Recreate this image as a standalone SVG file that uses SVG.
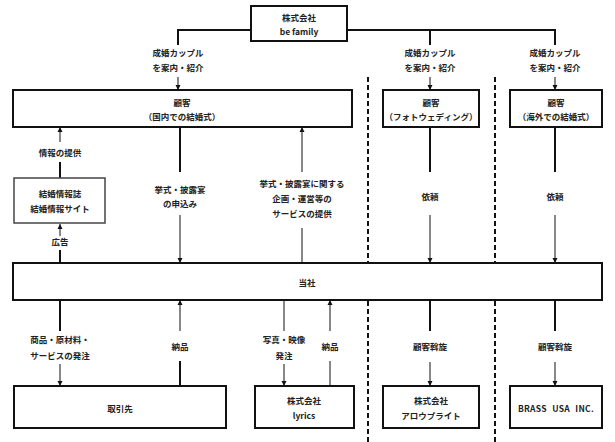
<svg xmlns="http://www.w3.org/2000/svg" width="615" height="442" viewBox="0 0 615 442">
<style>
.box{fill:#fff;stroke:#111;stroke-width:2}
.box2{fill:#fff;stroke:#444;stroke-width:1.5}
.t{font-family:"Noto Sans CJK JP","Noto Sans",sans-serif;font-size:8.5px;font-weight:bold;fill:#222;text-anchor:middle;dominant-baseline:central}
.thick{stroke:#111;stroke-width:2;fill:none}
.thin{stroke:#111;stroke-width:1;fill:none}
.arr{stroke:#111;stroke-width:1;fill:none;marker-end:url(#ah)}
.dash{stroke:#111;stroke-width:2;stroke-dasharray:5,3;fill:none}
</style>
<defs>
<marker id="ah" markerWidth="6" markerHeight="6" refX="5" refY="3" orient="auto" markerUnits="userSpaceOnUse">
<path d="M0,0.5 L5,3 L0,5.5 Z" fill="#111"/>
</marker>
</defs>
<rect width="615" height="442" fill="#fff"/>
<g id="connectors">
<polyline class="thick" points="251,30 178,30 178,45"/>
<polyline class="thick" points="347,30 555,30 555,45"/>
<line class="thick" x1="430" y1="30" x2="430" y2="45"/>
<line class="arr" x1="178" y1="77" x2="178" y2="90"/>
<line class="arr" x1="430" y1="77" x2="430" y2="90"/>
<line class="arr" x1="555" y1="77" x2="555" y2="90"/>
<line class="dash" x1="368" y1="77" x2="368" y2="442"/>
<line class="dash" x1="495" y1="77" x2="495" y2="442"/>
<line class="arr" x1="60" y1="142" x2="60" y2="127"/>
<line class="thick" x1="60" y1="162" x2="60" y2="178"/>
<line class="arr" x1="60" y1="236" x2="60" y2="224"/>
<line class="thick" x1="60" y1="250" x2="60" y2="263"/>
<line class="thick" x1="180" y1="127" x2="180" y2="172"/>
<line class="arr" x1="180" y1="215" x2="180" y2="263"/>
<line class="arr" x1="302" y1="172" x2="302" y2="127"/>
<line class="thin" x1="302" y1="228" x2="302" y2="263"/>
<line class="thick" x1="430" y1="127" x2="430" y2="172"/>
<line class="arr" x1="430" y1="215" x2="430" y2="263"/>
<line class="thick" x1="555" y1="127" x2="555" y2="172"/>
<line class="arr" x1="555" y1="215" x2="555" y2="263"/>
<line class="thick" x1="60" y1="300" x2="60" y2="331"/>
<line class="arr" x1="60" y1="364" x2="60" y2="386"/>
<line class="arr" x1="180" y1="331" x2="180" y2="300"/>
<line class="thick" x1="180" y1="361" x2="180" y2="386"/>
<line class="thin" x1="284" y1="300" x2="284" y2="331"/>
<line class="arr" x1="284" y1="364" x2="284" y2="386"/>
<line class="arr" x1="330" y1="331" x2="330" y2="300"/>
<line class="thin" x1="330" y1="361" x2="330" y2="386"/>
<line class="thick" x1="430" y1="300" x2="430" y2="331"/>
<line class="arr" x1="430" y1="362" x2="430" y2="386"/>
<line class="thick" x1="555" y1="300" x2="555" y2="331"/>
<line class="arr" x1="555" y1="362" x2="555" y2="386"/>
</g>
<g id="labels">
<text class="t" x="178" y="52">成婚カップル</text>
<text class="t" x="178" y="67">を案内・紹介</text>
<text class="t" x="430" y="52">成婚カップル</text>
<text class="t" x="430" y="67">を案内・紹介</text>
<text class="t" x="555" y="52">成婚カップル</text>
<text class="t" x="555" y="67">を案内・紹介</text>
<text class="t" x="60" y="152">情報の提供</text>
<text class="t" x="60" y="241">広告</text>
<text class="t" x="180" y="189">挙式・披露宴</text>
<text class="t" x="180" y="203">の申込み</text>
<text class="t" x="302" y="183">挙式・披露宴に関する</text>
<text class="t" x="302" y="198">企画・運営等の</text>
<text class="t" x="302" y="213">サービスの提供</text>
<text class="t" x="430" y="196">依頼</text>
<text class="t" x="555" y="196">依頼</text>
<text class="t" x="60" y="339">商品・原材料・</text>
<text class="t" x="60" y="355">サービスの発注</text>
<text class="t" x="180" y="346">納品</text>
<text class="t" x="284" y="339">写真・映像</text>
<text class="t" x="284" y="355">発注</text>
<text class="t" x="330" y="346">納品</text>
<text class="t" x="430" y="346">顧客斡旋</text>
<text class="t" x="555" y="346">顧客斡旋</text>
</g>
<g id="be-family">
<rect class="box" x="251" y="6" width="96" height="35"/>
<text class="t" x="299" y="17">株式会社</text>
<text class="t" x="299" y="31">be family</text>
</g>
<g id="customer-domestic">
<rect class="box" x="13" y="90" width="339" height="37"/>
<text class="t" x="182" y="102">顧客</text>
<text class="t" x="182" y="116">（国内での結婚式）</text>
</g>
<g id="customer-photo">
<rect class="box" x="383" y="90" width="96" height="37"/>
<text class="t" x="431" y="102">顧客</text>
<text class="t" x="431" y="116">（フォトウェディング）</text>
</g>
<g id="customer-overseas">
<rect class="box" x="510" y="90" width="92" height="37"/>
<text class="t" x="556" y="102">顧客</text>
<text class="t" x="556" y="116">（海外での結婚式）</text>
</g>
<g id="info-media">
<rect class="box2" x="14" y="178" width="91" height="45"/>
<text class="t" x="60" y="193">結婚情報誌</text>
<text class="t" x="60" y="208">結婚情報サイト</text>
</g>
<g id="company">
<rect class="box" x="13" y="263" width="589" height="37"/>
<text class="t" x="307" y="282">当社</text>
</g>
<g id="suppliers">
<rect class="box" x="14" y="386" width="212" height="42"/>
<text class="t" x="120" y="408">取引先</text>
</g>
<g id="lyrics">
<rect class="box" x="255" y="386" width="99" height="42"/>
<text class="t" x="304" y="400">株式会社</text>
<text class="t" x="304" y="415">lyrics</text>
</g>
<g id="arrow-bright">
<rect class="box" x="383" y="386" width="96" height="42"/>
<text class="t" x="431" y="400">株式会社</text>
<text class="t" x="431" y="415">アロウプライト</text>
</g>
<g id="brass-usa">
<rect class="box" x="510" y="386" width="92" height="42"/>
<text class="t" x="556" y="408" style="word-spacing:3px;letter-spacing:0.3px">BRASS USA INC.</text>
</g>
</svg>
